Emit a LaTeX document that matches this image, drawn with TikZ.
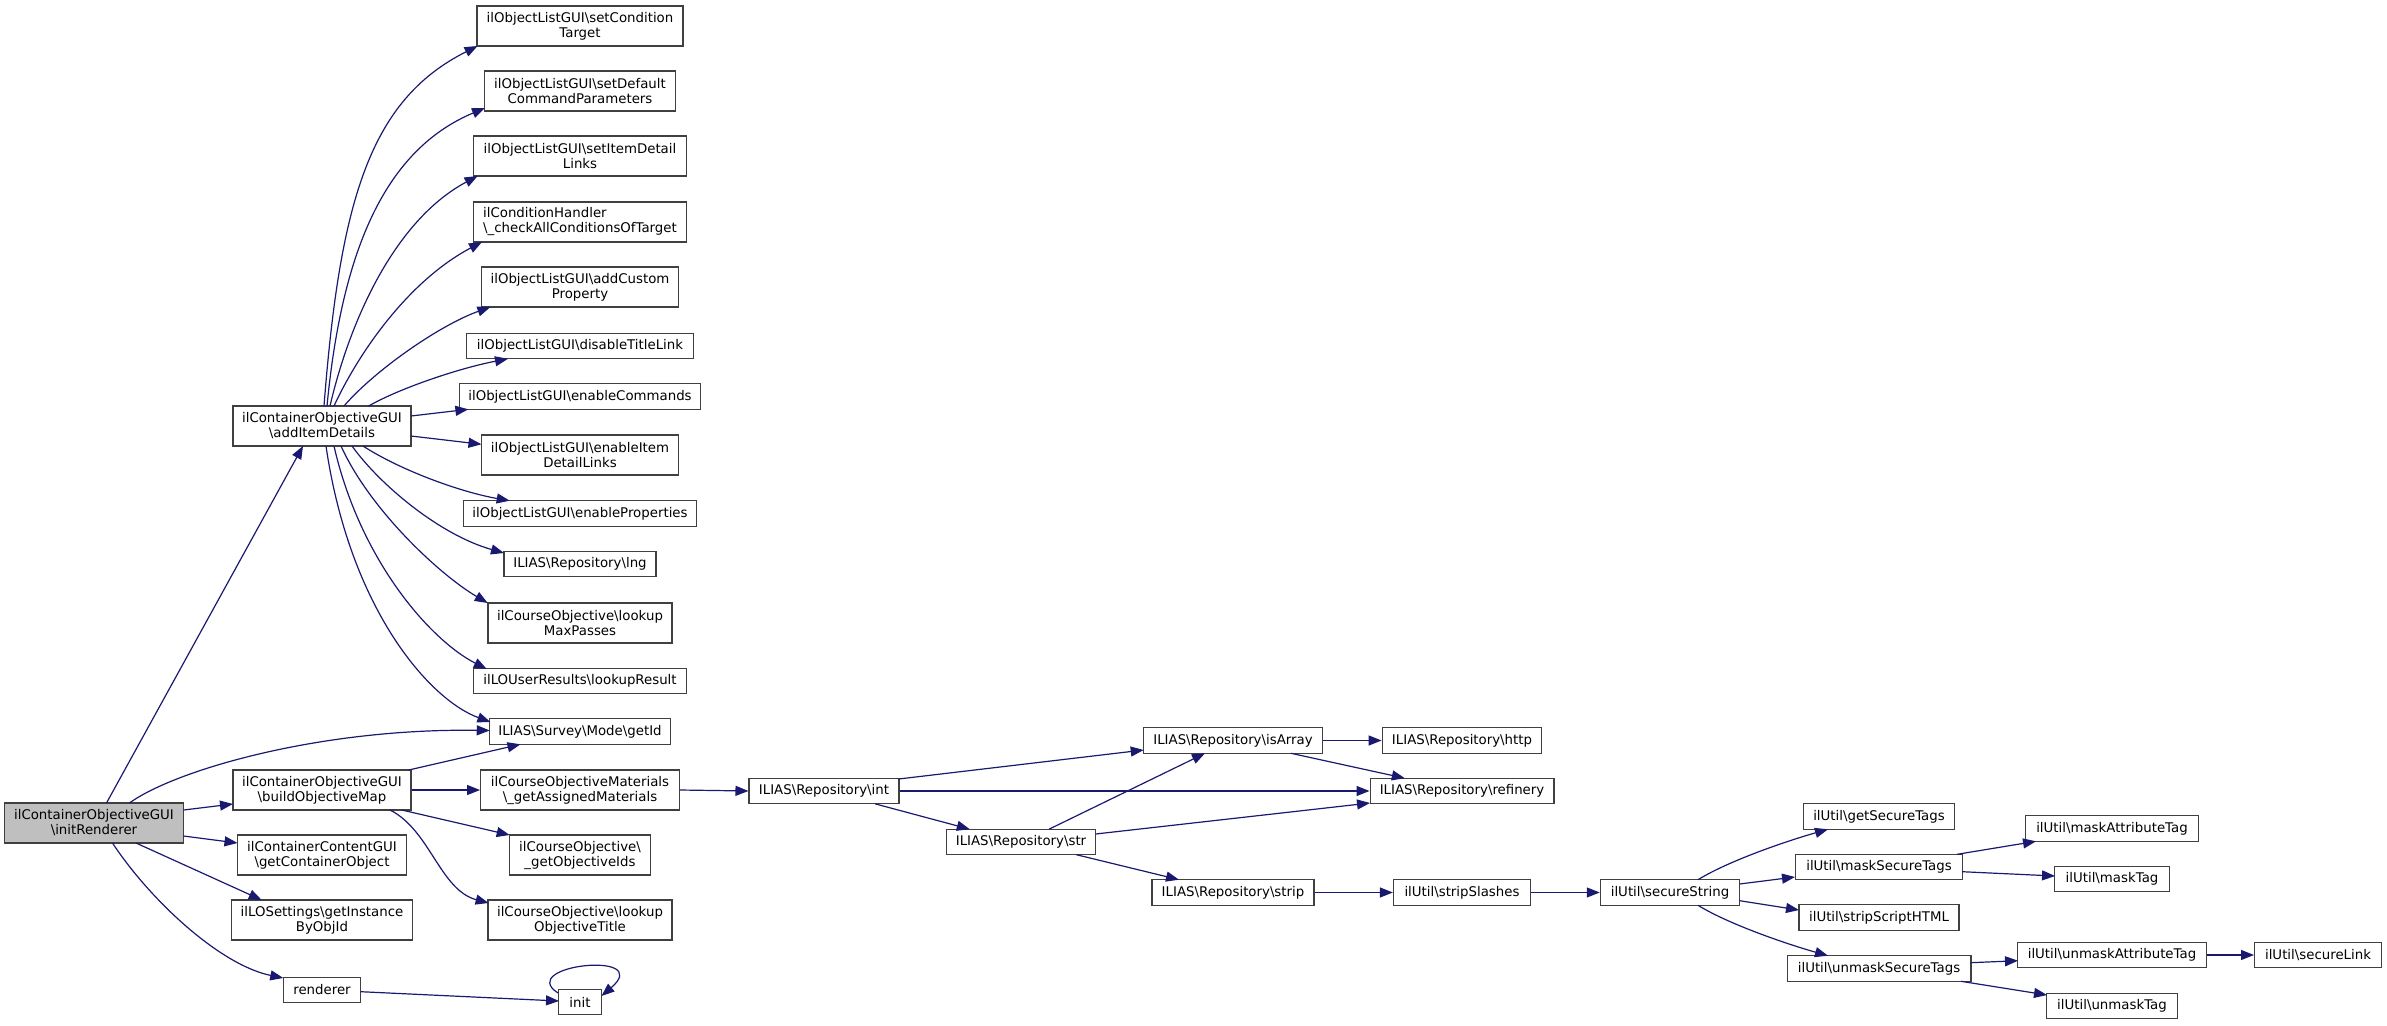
\documentclass[tikz,border=0pt]{standalone}
\usepackage{fontspec}
\setmainfont{DejaVu Sans}
\usetikzlibrary{arrows.meta,calc}
\definecolor{edgec}{HTML}{191970}
\definecolor{boxc}{HTML}{404040}
\definecolor{startc}{HTML}{BFBFBF}
\newcommand\bks{\textbackslash}
\begin{document}
\begin{tikzpicture}[x=1pt,y=-1pt,
  font=\fontsize{13.33}{15}\selectfont,
  box/.style={draw=boxc, line width=1.3pt, fill=white, inner xsep=2pt, inner ysep=1pt, minimum height=25.6pt, align=center},
  two/.style={minimum height=40pt},
  edge/.style={draw=edgec, line width=1.2pt, -{Triangle[length=13pt,width=10pt]}}]
\useasboundingbox (0,0) rectangle (2387,1025);
% column 1
\node[box,two,fill=startc,minimum width=179pt] (init1) at (94,823) {ilContainerObjectiveGUI\\\bks{}initRenderer};
% column 2
\node[box,two,minimum width=178pt] (aid) at (322,426) {ilContainerObjectiveGUI\\\bks{}addItemDetails};
\node[box,two,minimum width=178pt] (bom) at (322,790) {ilContainerObjectiveGUI\\\bks{}buildObjectiveMap};
\node[box,two,minimum width=169pt] (gco) at (322,855) {ilContainerContentGUI\\\bks{}getContainerObject};
\node[box,two,minimum width=181pt] (gib) at (322,920) {ilLOSettings\bks{}getInstance\\ByObjId};
\node[box,minimum width=77.5pt] (rend) at (322,990) {renderer};
% column 3
\node[box,two,minimum width=206pt] (sct) at (580,26) {ilObjectListGUI\bks{}setCondition\\Target};
\node[box,two,minimum width=191pt] (sdc) at (580,91) {ilObjectListGUI\bks{}setDefault\\CommandParameters};
\node[box,two,minimum width=212.5pt] (sid) at (580,156) {ilObjectListGUI\bks{}setItemDetail\\Links};
\node[box,two,minimum width=212.5pt,align=left] (cac) at (580,222) {ilConditionHandler\\\bks{}\_checkAllConditionsOfTarget};
\node[box,two,minimum width=197pt] (acp) at (580,287) {ilObjectListGUI\bks{}addCustom\\Property};
\node[box,minimum width=227pt] (dtl) at (580,346) {ilObjectListGUI\bks{}disableTitleLink};
\node[box,minimum width=241.5pt] (ec) at (580,396.5) {ilObjectListGUI\bks{}enableCommands};
\node[box,two,minimum width=197pt] (eidl) at (580,455) {ilObjectListGUI\bks{}enableItem\\DetailLinks};
\node[box,minimum width=233pt] (ep) at (580,513.5) {ilObjectListGUI\bks{}enableProperties};
\node[box,minimum width=152pt] (lng) at (580,564) {ILIAS\bks{}Repository\bks{}lng};
\node[box,two,minimum width=184pt] (lmp) at (580,623) {ilCourseObjective\bks{}lookup\\MaxPasses};
\node[box,minimum width=213pt] (lr) at (580,681) {ilLOUserResults\bks{}lookupResult};
\node[box,minimum width=180.5pt] (gid) at (580,731.5) {ILIAS\bks{}Survey\bks{}Mode\bks{}getId};
\node[box,two,minimum width=198.6pt] (gam) at (580,790) {ilCourseObjectiveMaterials\\\bks{}\_getAssignedMaterials};
\node[box,two,minimum width=141.3pt] (goi) at (580,855) {ilCourseObjective\bks{}\\\_getObjectiveIds};
\node[box,two,minimum width=184pt] (lot) at (580,920) {ilCourseObjective\bks{}lookup\\ObjectiveTitle};
\node[box,minimum width=42.5pt] (init) at (580,1002) {init};
% further columns
\node[box,minimum width=149.8pt] (int) at (824,791) {ILIAS\bks{}Repository\bks{}int};
\node[box,minimum width=149.2pt] (str) at (1021,842) {ILIAS\bks{}Repository\bks{}str};
\node[box,minimum width=179.1pt] (isa) at (1233,740.5) {ILIAS\bks{}Repository\bks{}isArray};
\node[box,minimum width=162pt] (strip) at (1233,892.5) {ILIAS\bks{}Repository\bks{}strip};
\node[box,minimum width=159.5pt] (http) at (1462,740.5) {ILIAS\bks{}Repository\bks{}http};
\node[box,minimum width=183.7pt] (ref) at (1462,791) {ILIAS\bks{}Repository\bks{}refinery};
\node[box,minimum width=137pt] (ssl) at (1462,892.5) {ilUtil\bks{}stripSlashes};
\node[box,minimum width=139.2pt] (ss) at (1670,892.5) {ilUtil\bks{}secureString};
\node[box,minimum width=150.4pt] (gst) at (1879,816.5) {ilUtil\bks{}getSecureTags};
\node[box,minimum width=167pt] (mst) at (1879,867) {ilUtil\bks{}maskSecureTags};
\node[box,minimum width=159.8pt] (ssh) at (1879,917.5) {ilUtil\bks{}stripScriptHTML};
\node[box,minimum width=183.7pt] (ust) at (1879,968.5) {ilUtil\bks{}unmaskSecureTags};
\node[box,minimum width=172.6pt] (mat) at (2112,828.5) {ilUtil\bks{}maskAttributeTag};
\node[box,minimum width=114.8pt] (mt) at (2112,879) {ilUtil\bks{}maskTag};
\node[box,minimum width=188.6pt] (uat) at (2112,955) {ilUtil\bks{}unmaskAttributeTag};
\node[box,minimum width=126.7pt] (sl) at (2318,955) {ilUtil\bks{}secureLink};
\node[box,minimum width=130.7pt] (ut) at (2112,1006) {ilUtil\bks{}unmaskTag};
% edges from addItemDetails
\draw[edge] ($(aid)+(2,-20)$) .. controls (340,200) and (370,100) .. ($(sct)+(-102.4,20)$);
\draw[edge] ($(aid)+(5,-20)$) .. controls (342,250) and (385,150) .. ($(sdc)+(-95,17)$);
\draw[edge] ($(aid)+(8,-20)$) .. controls (350,320) and (395,220) .. ($(sid)+(-102.4,20)$);
\draw[edge] ($(aid)+(12,-20)$) .. controls (360,350) and (410,280) .. ($(cac)+(-98,20)$);
\draw[edge] ($(aid)+(22,-20)$) .. controls (375,370) and (440,325) .. ($(acp)+(-89.6,20)$);
\draw[edge] ($(aid)+(46.7,-20)$) .. controls (400,388) and (460,368) .. ($(dtl)+(-72,12.8)$);
\draw[edge] ($(aid)+(89,-10)$) -- ($(ec)+(-111.6,12.8)$);
\draw[edge] ($(aid)+(89,10)$) -- ($(eidl)+(-98.5,-10.7)$);
\draw[edge] ($(aid)+(41,20)$) .. controls (400,470) and (460,492) .. ($(ep)+(-70.3,-12.8)$);
\draw[edge] ($(aid)+(30,20)$) .. controls (380,485) and (440,535) .. ($(lng)+(-76,-11)$);
\draw[edge] ($(aid)+(19,20)$) .. controls (370,510) and (440,575) .. ($(lmp)+(-92.3,-20)$);
\draw[edge] ($(aid)+(12,20)$) .. controls (360,560) and (430,640) .. ($(lr)+(-93.3,-12)$);
\draw[edge] ($(aid)+(4,20)$) .. controls (350,610) and (430,700) .. ($(gid)+(-89.6,-9.5)$);
% edges from initRenderer
\draw[edge] ($(init1)+(12.5,-20)$) -- ($(aid)+(-19,20)$);
\draw[edge] ($(init1)+(35.5,-20)$) .. controls (175,770) and (320,728) .. ($(gid)+(-90.25,-1)$);
\draw[edge] ($(init1)+(89.5,-13)$) -- ($(bom)+(-89,14)$);
\draw[edge] ($(init1)+(89.5,13)$) -- ($(gco)+(-84.5,-12)$);
\draw[edge] ($(init1)+(42,20)$) -- ($(gib)+(-60.3,-20)$);
\draw[edge] ($(init1)+(18.5,20)$) .. controls (150,900) and (220,965) .. ($(rend)+(-38.75,-12)$);
% buildObjectiveMap
\draw[edge] ($(bom)+(86.7,-20)$) -- ($(gid)+(-59.5,12.8)$);
\draw[edge] (bom.east) -- (gam.west);
\draw[edge] ($(bom)+(79.8,20)$) -- ($(goi)+(-70.3,-20)$);
\draw[edge] ($(bom)+(68,20)$) .. controls (430,830) and (440,890) .. ($(lot)+(-91.4,-17)$);
% repository
\draw[edge] (gam.east) -- (int.west);
\draw[edge] ($(int)+(74.6,-12)$) -- ($(isa)+(-89.3,9.5)$);
\draw[edge] (int.east) -- (ref.west);
\draw[edge] ($(int)+(51,12.8)$) -- ($(str)+(-51.2,-12.8)$);
\draw[edge] ($(str)+(28,-12.8)$) -- ($(isa)+(-28,12.8)$);
\draw[edge] ($(str)+(74.6,-8)$) -- ($(ref)+(-92,12)$);
\draw[edge] ($(str)+(55,12.6)$) -- ($(strip)+(-54,-12.8)$);
\draw[edge] (isa.east) -- (http.west);
\draw[edge] ($(isa)+(58,12.8)$) -- ($(ref)+(-57.2,-12.8)$);
\draw[edge] (strip.east) -- (ssl.west);
\draw[edge] (ssl.east) -- (ss.west);
% ilUtil
\draw[edge] ($(ss)+(28,-12.8)$) .. controls (1730,860) and (1790,840) .. ($(gst)+(-51,12.8)$);
\draw[edge] ($(ss)+(69.6,-8.5)$) -- ($(mst)+(-84,10)$);
\draw[edge] ($(ss)+(69.6,8.2)$) -- ($(ssh)+(-80,-7.5)$);
\draw[edge] ($(ss)+(28,12.8)$) .. controls (1730,925) and (1790,945) .. ($(ust)+(-51,-12.8)$);
\draw[edge] ($(mst)+(78,-12.7)$) -- ($(mat)+(-76,12.8)$);
\draw[edge] ($(mst)+(83,4.7)$) -- ($(mt)+(-57,-3)$);
\draw[edge] ($(ust)+(91.7,-5.8)$) -- ($(uat)+(-94,5.7)$);
\draw[edge] ($(ust)+(82,12.8)$) -- ($(ut)+(-65,-11)$);
\draw[edge] (uat.east) -- (sl.west);
% renderer / init
\draw[edge] ($(rend)+(38.75,1.7)$) -- ($(init)+(-21,-1)$);
\draw[edge] ($(init)+(-22,-9)$) .. controls (515,965) and (655,950) .. ($(init)+(21.5,-6)$);
\end{tikzpicture}
\end{document}
